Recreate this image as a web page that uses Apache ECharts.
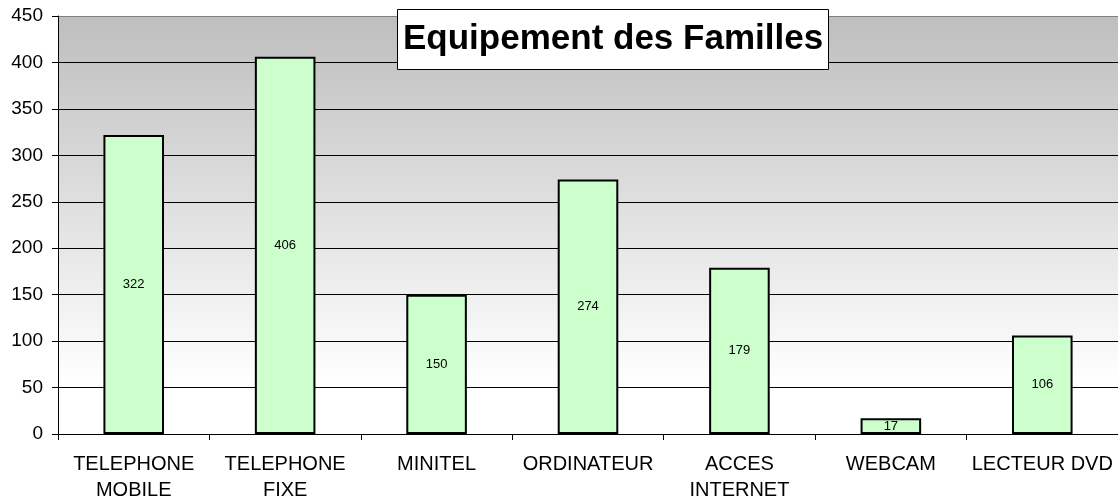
<!DOCTYPE html>
<html lang="fr">
<head>
    <meta charset="UTF-8">
    <title>Equipement des Familles</title>
    <script src="https://cdn.jsdelivr.net/npm/echarts@6/dist/echarts.min.js"></script>
    <style>
        html, body { margin: 0; padding: 0; background: #fff; }
        #main { width: 1118px; height: 500px; }
    </style>
</head>
<body>
<div id="main"></div>
<script type="text/javascript">
    var categories = ['TELEPHONE\nMOBILE', 'TELEPHONE\nFIXE', 'MINITEL', 'ORDINATEUR', 'ACCES\nINTERNET', 'WEBCAM', 'LECTEUR DVD'];
    var values = [322, 406, 150, 274, 179, 17, 106];

    var myChart = echarts.init(document.getElementById('main'));

    var option = {
        animation: false,
        textStyle: { fontFamily: 'Liberation Sans, Arial, sans-serif' },
        title: {
            text: 'Equipement des Familles',
            left: 397,
            top: 9,
            padding: [13, 6, 13, 6],
            backgroundColor: '#ffffff',
            borderColor: '#000000',
            borderWidth: 1,
            textStyle: {
                fontSize: 35,
                fontWeight: 'bold',
                color: '#000',
                fontFamily: 'Liberation Sans, Arial, sans-serif'
            }
        },
        grid: {
            left: 58,
            right: 0,
            top: 16,
            bottom: 66,
            outerBoundsMode: 'none',
            show: true,
            borderWidth: 0,
            backgroundColor: new echarts.graphic.LinearGradient(0, 0, 0, 1, [
                { offset: 0, color: '#bebebe' },
                { offset: 0.88, color: '#ffffff' },
                { offset: 1, color: '#ffffff' }
            ])
        },
        xAxis: {
            type: 'category',
            data: categories,
            axisLine: { show: true, lineStyle: { color: '#000', width: 1 } },
            axisTick: { show: true, length: 6, lineStyle: { color: '#000' } },
            axisLabel: {
                color: '#000',
                fontSize: 20,
                margin: 17,
                lineHeight: 26,
                interval: 0
            }
        },
        yAxis: {
            type: 'value',
            min: 0,
            max: 450,
            interval: 50,
            axisLine: { show: true, lineStyle: { color: '#000', width: 1 } },
            axisTick: { show: true, length: 6, lineStyle: { color: '#000' } },
            axisLabel: { color: '#000', fontSize: 19, margin: 15 },
            splitLine: {
                show: true,
                lineStyle: {
                    color: ['#000', '#000', '#000', '#000', '#000', '#000', '#000', '#000', '#000', '#808080'],
                    width: 1
                }
            }
        },
        series: [{
            type: 'bar',
            data: values,
            barWidth: '40%',
            itemStyle: {
                color: '#ccffcc',
                borderColor: '#000',
                borderWidth: 2
            },
            label: {
                show: true,
                position: 'inside',
                color: '#000',
                fontSize: 13
            }
        }]
    };

    myChart.setOption(option);
</script>
</body>
</html>
